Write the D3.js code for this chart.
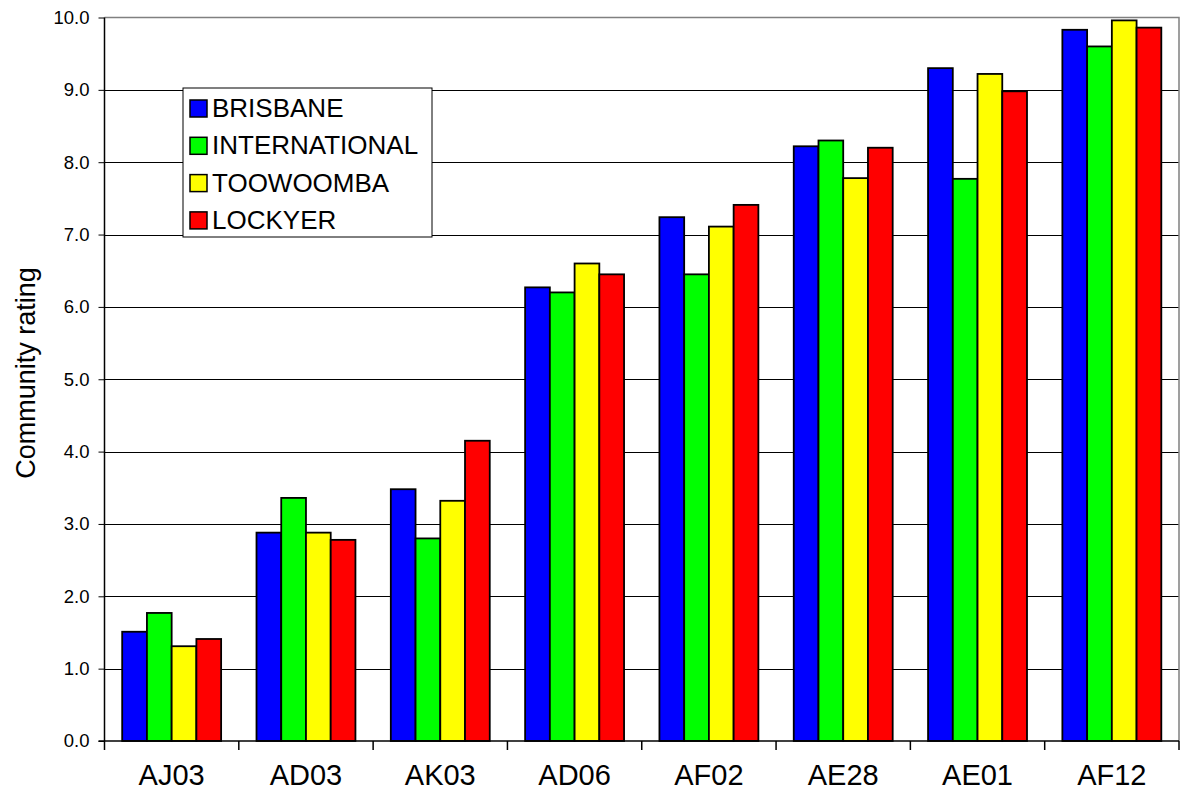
<!DOCTYPE html>
<html>
<head>
<meta charset="utf-8">
<script src="https://cdn.jsdelivr.net/npm/d3@7"></script>
<style>
  body { margin: 0; background: #fff; }
  text { font-family: "Liberation Sans", Arial, sans-serif; fill: #000; }
</style>
</head>
<body>
<div id="chart"></div>
<script>
var sites = ["AJ03", "AD03", "AK03", "AD06", "AF02", "AE28", "AE01", "AF12"];
var seriesNames = ["BRISBANE", "INTERNATIONAL", "TOOWOOMBA", "LOCKYER"];
var seriesColors = ["#0000ff", "#00ff00", "#ffff00", "#ff0000"];

var brisbane = [1.51, 2.88, 3.48, 6.27, 7.24, 8.22, 9.30, 9.83];
var international = [1.77, 3.36, 2.80, 6.20, 6.45, 8.30, 7.77, 9.60];
var toowoomba = [1.31, 2.88, 3.32, 6.60, 7.11, 7.78, 9.22, 9.96];
var lockyer = [1.41, 2.78, 4.15, 6.45, 7.41, 8.20, 8.98, 9.86];

var yTicks = [0, 1, 2, 3, 4, 5, 6, 7, 8, 9, 10];

var allSeries = [brisbane, international, toowoomba, lockyer];

var width = 1183, height = 800;
var plotLeft = 104.5, plotRight = 1179, plotTop = 17.5, plotBottom = 741;

var svg = d3.select("#chart").append("svg")
    .attr("width", width)
    .attr("height", height);

var x = d3.scaleBand().domain(sites).range([plotLeft, plotRight]).paddingInner(0).paddingOuter(0);
var yScale = d3.scaleLinear().domain([0, 10]).range([plotBottom, plotTop]);

// inner band for the 4 bars, excel style gap
var x1 = d3.scaleBand().domain(d3.range(seriesNames.length))
    .range([0, x.bandwidth()])
    .paddingInner(0)
    .paddingOuter(0.715);

// gridlines
svg.append("g")
    .selectAll("line")
    .data(yTicks.filter(function(d) { return d > 0 && d < 10; }))
    .enter()
    .append("line")
    .attr("x1", plotLeft)
    .attr("x2", plotRight)
    .attr("y1", function(d) { return Math.round(yScale(d)) + 0.5; })
    .attr("y2", function(d) { return Math.round(yScale(d)) + 0.5; })
    .attr("stroke", "#000")
    .attr("stroke-width", 1);

// plot border (grey top/right)
svg.append("path")
    .attr("d", "M" + plotLeft + "," + plotTop + "H" + plotRight + "V" + plotBottom)
    .attr("fill", "none")
    .attr("stroke", "#808080")
    .attr("stroke-width", 1.5);

// bars
var groups = svg.append("g")
    .selectAll("g")
    .data(sites)
    .enter()
    .append("g")
    .attr("transform", function(d) { return "translate(" + x(d) + ",0)"; });

groups.selectAll("rect")
    .data(function(d, i) {
        return allSeries.map(function(s, j) { return { s: j, v: s[i] }; });
    })
    .enter()
    .append("rect")
    .attr("x", function(d) { return x1(d.s); })
    .attr("width", x1.bandwidth())
    .attr("y", function(d) { return yScale(d.v); })
    .attr("height", function(d) { return plotBottom - yScale(d.v); })
    .attr("fill", function(d) { return seriesColors[d.s]; })
    .attr("stroke", "#000")
    .attr("stroke-width", 1.8);

// y axis
var yAxis = d3.axisLeft(yScale)
    .tickValues(yTicks)
    .tickSize(6)
    .tickFormat(d3.format(".1f"));

var gy = svg.append("g")
    .attr("transform", "translate(" + plotLeft + ",0)")
    .call(yAxis);
gy.select(".domain").attr("stroke", "#000").attr("stroke-width", 1.5)
    .attr("d", "M0," + plotTop + "V" + plotBottom);
gy.selectAll(".tick line").attr("stroke", "#000");
gy.selectAll(".tick text")
    .attr("x", -15)
    .style("font-size", "18.5px")
    .style("font-family", "Liberation Sans, Arial, sans-serif");

// x axis
var gx = svg.append("g")
    .attr("transform", "translate(0," + plotBottom + ")");
gx.append("line")
    .attr("x1", plotLeft - 6).attr("x2", plotRight)
    .attr("y1", 0).attr("y2", 0)
    .attr("stroke", "#000").attr("stroke-width", 1.5);
gx.selectAll(".sep")
    .data(sites.concat(["end"]))
    .enter()
    .append("line")
    .attr("class", "sep")
    .attr("x1", function(d, i) { return plotLeft + i * x.bandwidth(); })
    .attr("x2", function(d, i) { return plotLeft + i * x.bandwidth(); })
    .attr("y1", 0).attr("y2", 9)
    .attr("stroke", "#000").attr("stroke-width", 1.5);
gx.selectAll(".lab")
    .data(sites)
    .enter()
    .append("text")
    .attr("class", "lab")
    .attr("x", function(d) { return x(d) + x.bandwidth() / 2; })
    .attr("y", 44)
    .attr("text-anchor", "middle")
    .style("font-size", "29px")
    .text(function(d) { return d; });

// y title
svg.append("text")
    .attr("transform", "translate(35,373) rotate(-90)")
    .attr("text-anchor", "middle")
    .style("font-size", "27px")
    .text("Community rating");

// legend
var legend = svg.append("g").attr("transform", "translate(183,88)");
legend.append("rect")
    .attr("width", 249)
    .attr("height", 149)
    .attr("fill", "#fff")
    .attr("stroke", "#000")
    .attr("stroke-width", 1);

var items = legend.selectAll(".item")
    .data(seriesNames)
    .enter()
    .append("g")
    .attr("class", "item")
    .attr("transform", function(d, i) { return "translate(7," + (29 + i * 37.3) + ")"; });

items.append("rect")
    .attr("x", 0).attr("y", -17)
    .attr("width", 17).attr("height", 17)
    .attr("fill", function(d, i) { return seriesColors[i]; })
    .attr("stroke", "#000")
    .attr("stroke-width", 1.5);

items.append("text")
    .attr("x", 22)
    .attr("y", 0)
    .style("font-size", "26px")
    .text(function(d) { return d; });
</script>
</body>
</html>
